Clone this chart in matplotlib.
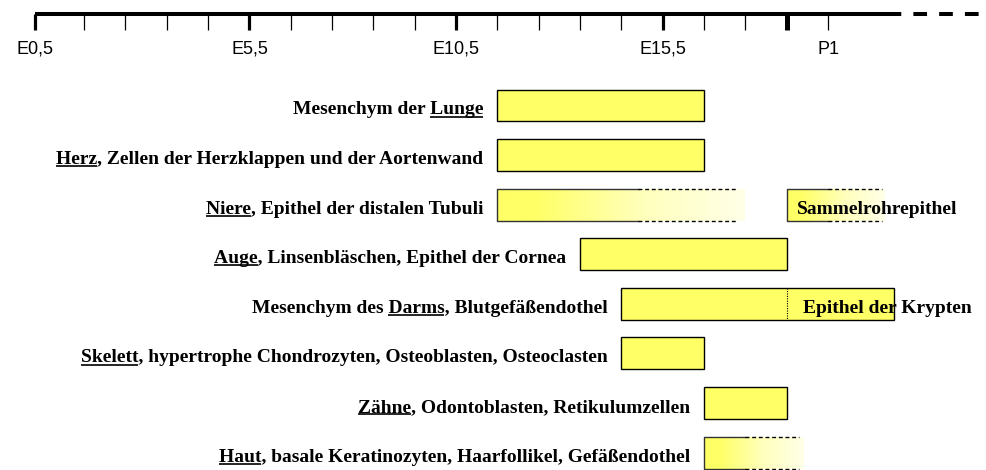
import numpy as np
import matplotlib
matplotlib.use("Agg")
import matplotlib.pyplot as plt
from matplotlib.colors import LinearSegmentedColormap
from matplotlib.patches import Rectangle
from matplotlib.transforms import offset_copy

# Zeitachse (Embryonaltage)
tick_days = [0.3, 1.5, 2.5, 3.5, 4.5, 5.5, 6.5, 7.5, 8.5, 9.5, 10.5,
             11.5, 12.5, 13.5, 14.5, 15.5, 16.5, 17.5, 18.5, 19.5]
major_days = [0.3, 5.5, 10.5, 15.5]
tick_labels = ["E0,5", "E5,5", "E10,5", "E15,5", "P1"]
label_days = [0.3, 5.5, 10.5, 15.5, 19.5]
birth_day = 18.5
axis_solid_end = 21.0
axis_dash_end = 23.4

# Organe / Zelltypen
labels = [
    "Mesenchym der Lunge",
    "Herz, Zellen der Herzklappen und der Aortenwand",
    "Niere, Epithel der distalen Tubuli",
    "Auge, Linsenbläschen, Epithel der Cornea",
    "Mesenchym des Darms, Blutgefäßendothel",
    "Skelett, hypertrophe Chondrozyten, Osteoblasten, Osteoclasten",
    "Zähne, Odontoblasten, Retikulumzellen",
    "Haut, basale Keratinozyten, Haarfollikel, Gefäßendothel",
]
underlined = ["Lunge", "Herz", "Niere", "Auge", "Darms", "Skelett", "Zähne", "Haut"]
bar_start = [11.5, 11.5, 11.5, 13.5, 14.5, 14.5, 16.5, 16.5]
bar_end = [16.5, 16.5, 17.5, 18.5, 21.1, 16.5, 18.5, 18.9]
solid_end = [16.5, 16.5, 14.9, 18.5, 21.1, 16.5, 18.5, 17.5]
dash_end = [16.5, 16.5, 17.3, 18.5, 21.1, 16.5, 18.5, 18.8]
fading = [False, False, True, False, False, False, False, True]

# zusaetzliche Abschnitte
extra_row = [2]
extra_start = [18.5]
extra_solid = [19.5]
extra_dash = [20.8]
extra_end = [20.85]
extra_label = ["Sammelrohrepithel"]

split_row = 4
split_day = 18.5
split_label = "Epithel der Krypten"

YELLOW = "#FFFF66"
fade_cmap = LinearSegmentedColormap.from_list(
    "fade", [(0, YELLOW), (0.15, YELLOW), (0.6, "#FFFFBE"), (1, "#FFFFE8")])

serif = ["Liberation Serif", "DejaVu Serif"]
sans = ["Liberation Sans", "DejaVu Sans"]
FS = 14

fig = plt.figure(figsize=(9.86, 4.70), dpi=100)
ax = fig.add_axes([0, 0, 1, 1])
ax.axis("off")

H = 0.645  # Balkenhoehe in Zeilen


def draw_bar(row, x0, x_solid, x_dash, x_end, fade):
    y0, y1 = row - H / 2, row + H / 2
    if not fade:
        ax.add_patch(Rectangle((x0, y0), x_end - x0, H, facecolor=YELLOW,
                               edgecolor="black", lw=1.0, zorder=2))
        return
    grad = np.linspace(0, 1, 256).reshape(1, -1)
    ax.imshow(grad, cmap=fade_cmap, extent=(x0, x_end, y1, y0),
              aspect="auto", interpolation="bilinear", zorder=1)
    ax.plot([x_solid, x0, x0, x_solid], [y0, y0, y1, y1],
            color="#333333", lw=1.0, zorder=2)
    for y in (y0, y1):
        ax.plot([x_solid, x_dash], [y, y], color="black", lw=1.0,
                ls=(0, (2.8, 2.0)), zorder=2)


for i in range(len(labels)):
    draw_bar(i, bar_start[i], solid_end[i], dash_end[i], bar_end[i], fading[i])

for k, row in enumerate(extra_row):
    draw_bar(row, extra_start[k], extra_solid[k], extra_dash[k], extra_end[k], True)
    tr = offset_copy(ax.transData, fig=fig, x=10, y=-9, units="dots")
    ax.text(extra_start[k], row, extra_label[k], transform=tr, ha="left",
            va="baseline", fontsize=FS, fontweight="bold", family=serif, zorder=5)

# Trennlinie im Darm-Balken
ax.plot([split_day, split_day], [split_row - H / 2, split_row + H / 2],
        color="black", lw=0.8, ls=(0, (1, 1.2)), zorder=3)
tr = offset_copy(ax.transData, fig=fig, x=16, y=-9, units="dots")
ax.text(split_day, split_row, split_label, transform=tr, ha="left",
        va="baseline", fontsize=FS, fontweight="bold", family=serif, zorder=5)

ax.set_xlim(-0.535, 23.32)
ax.set_ylim(7.349, -2.127)

# Beschriftungen mit Unterstreichung
renderer = fig.canvas.get_renderer()
for i, (lab, word) in enumerate(zip(labels, underlined)):
    tr = offset_copy(ax.transData, fig=fig, x=-14, y=-9, units="dots")
    t = ax.text(bar_start[i], i, lab, transform=tr, ha="right", va="baseline",
                fontsize=FS, fontweight="bold", family=serif, zorder=5)
    bb = t.get_window_extent(renderer)
    pos = lab.index(word)
    tmp = ax.text(0, 0, lab[:pos + len(word)], fontsize=FS, fontweight="bold", family=serif)
    w_upto = tmp.get_window_extent(renderer).width
    tmp.set_text(word)
    w_word = tmp.get_window_extent(renderer).width
    tmp.remove()
    xs = bb.x0 + w_upto - w_word
    xe = bb.x0 + w_upto
    base = ax.transData.transform((bar_start[i], i))[1] - 9
    ax.plot([xs, xe], [base - 2.2, base - 2.2], color="black", lw=1.2,
            transform=None, solid_capstyle="butt", zorder=5)

# Zeitachse oben
xt = ax.get_xaxis_transform()
y_axis = 1 - 14 / 470
y_tick = 1 - 30 / 470
ax.plot([tick_days[0], axis_solid_end], [y_axis, y_axis], color="black",
        lw=2.9, transform=xt, solid_capstyle="butt")
ax.plot([axis_solid_end, axis_dash_end], [y_axis, y_axis], color="black",
        lw=2.9, transform=xt, ls=(0.6, (3.4, 3.0)))
for d in tick_days:
    if d == birth_day:
        lw = 3.6
    elif d in major_days:
        lw = 2.3
    else:
        lw = 0.9
    ax.plot([d, d], [y_axis, y_tick], color="black", lw=lw, transform=xt,
            solid_capstyle="butt")
for d, s in zip(label_days, tick_labels):
    ax.text(d, 1 - 49 / 470, s, transform=xt, ha="center", va="center",
            fontsize=13, family=sans)

fig.savefig("out.png", dpi=100)
